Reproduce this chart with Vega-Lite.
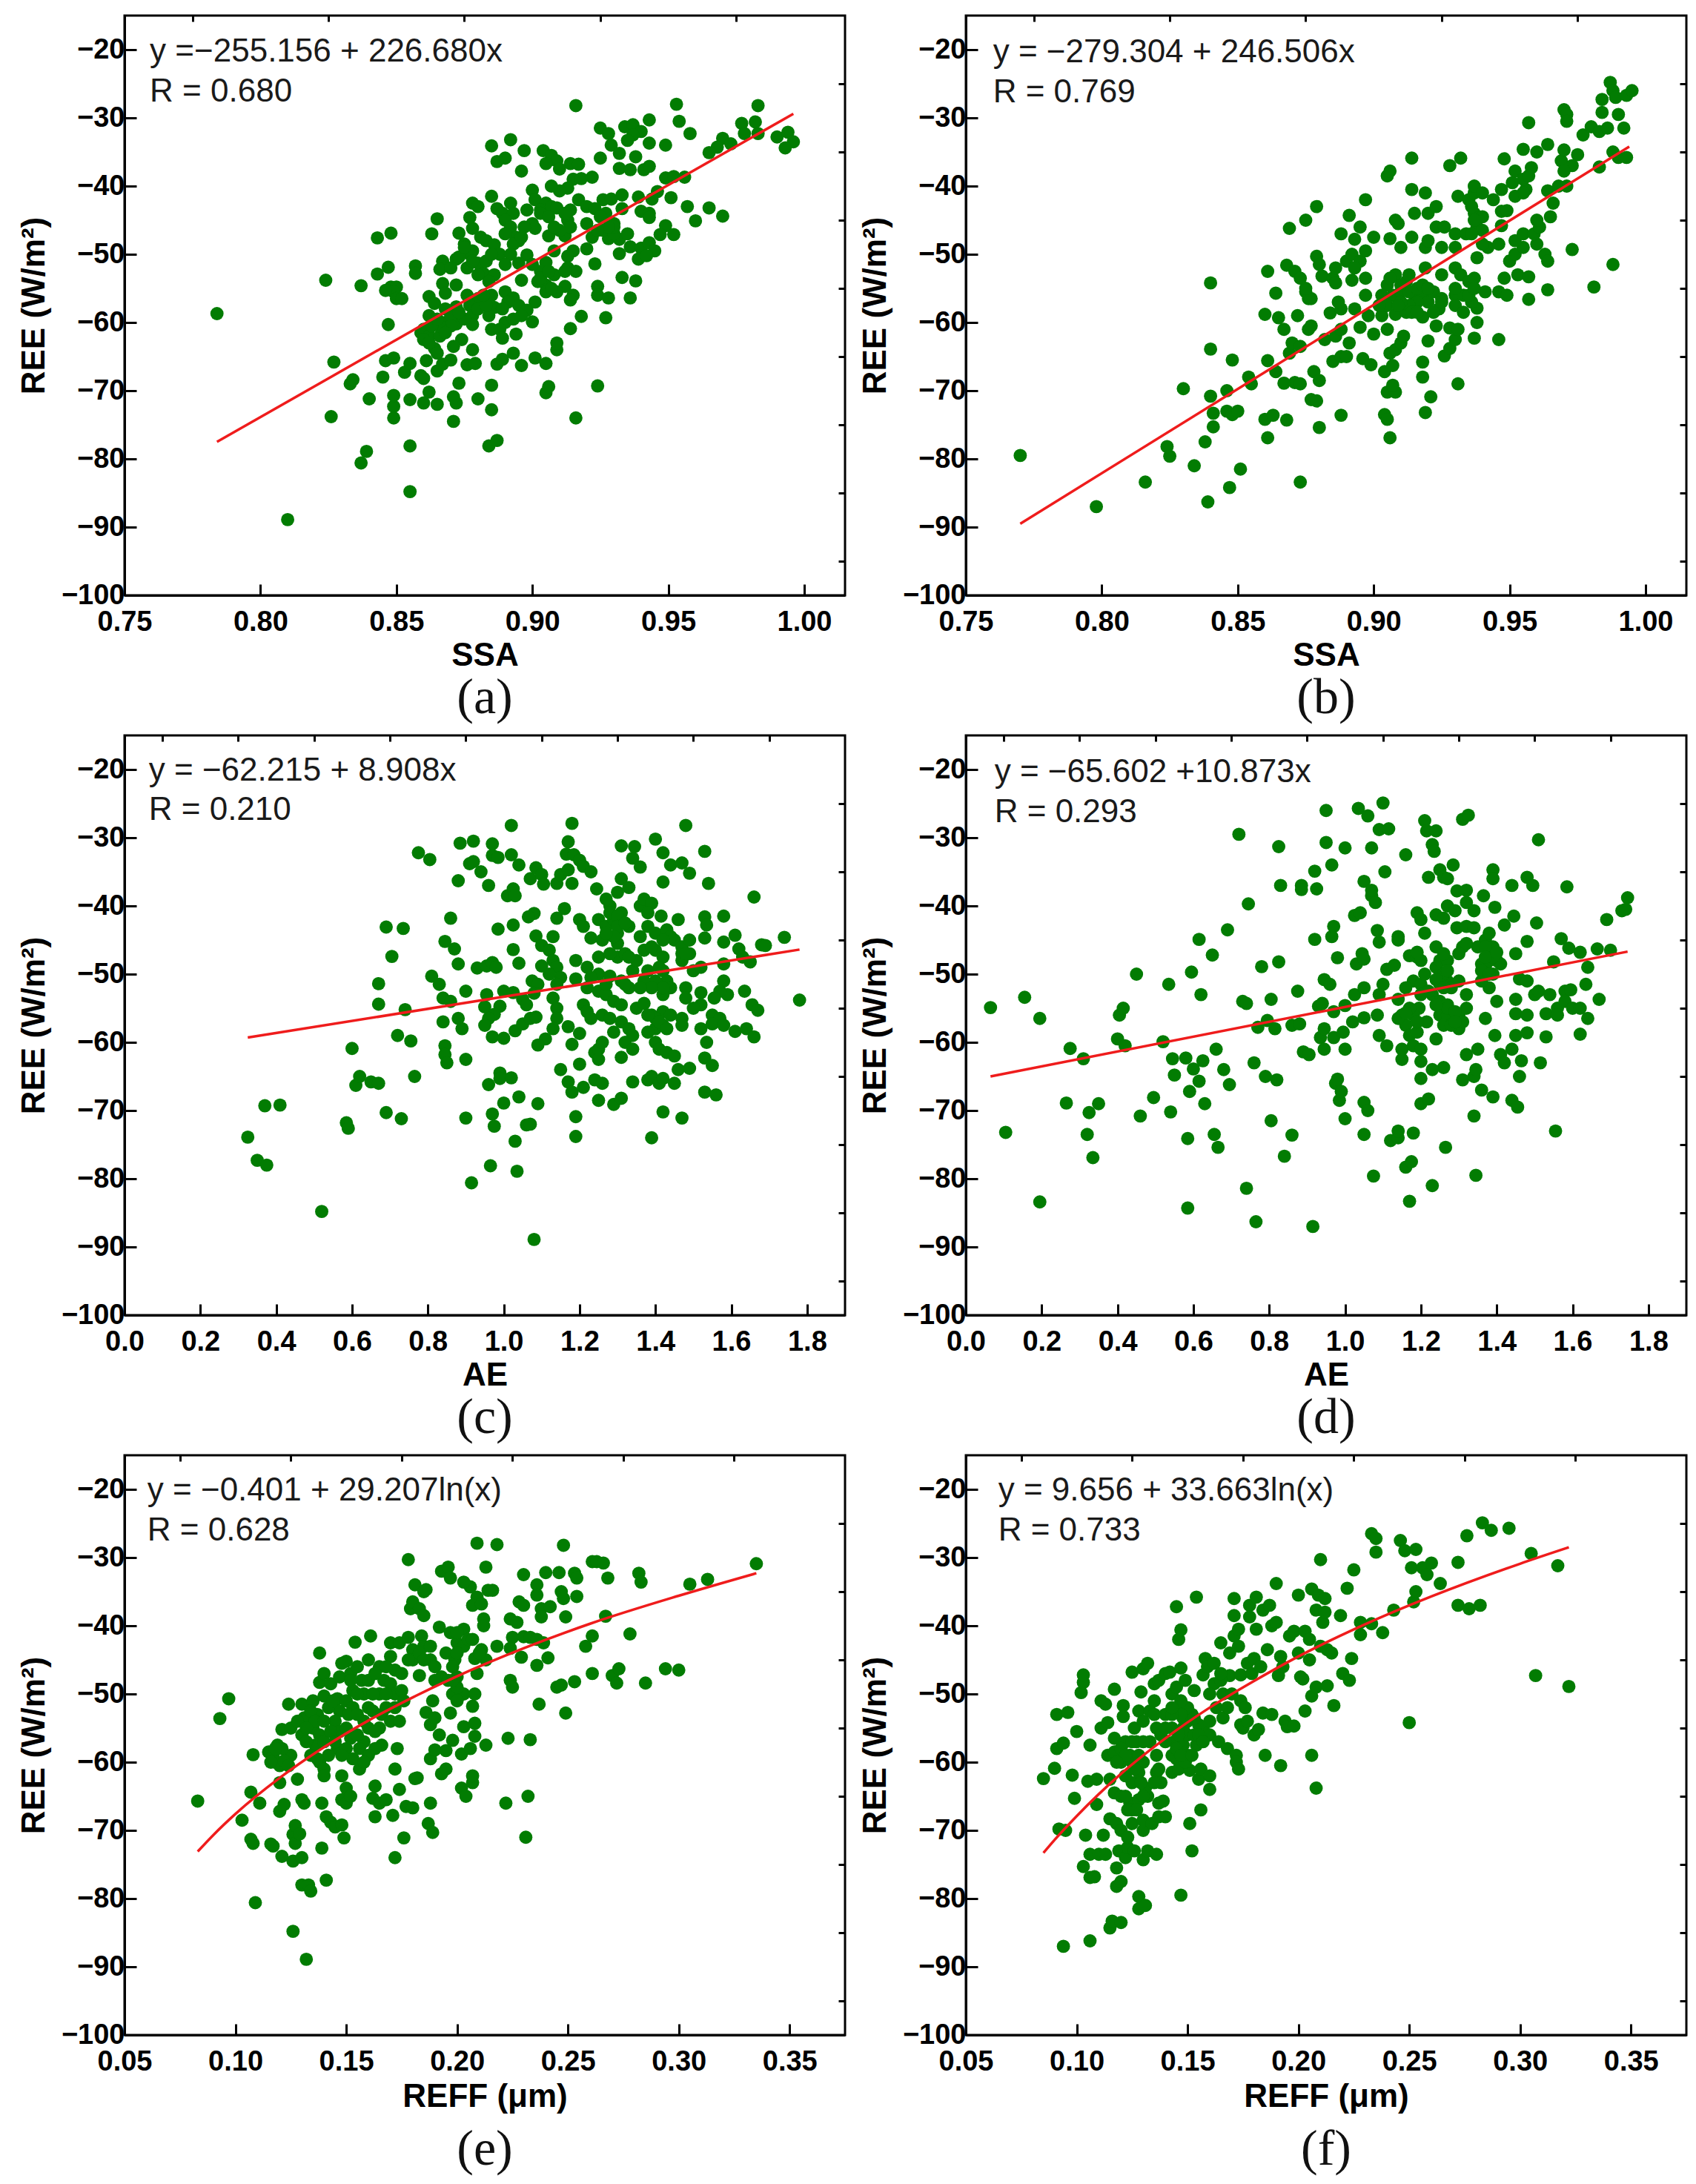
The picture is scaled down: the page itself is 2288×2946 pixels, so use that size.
{"$schema":"https://vega.github.io/schema/vega-lite/v6.json","background":"white","padding":{"left":22,"top":18,"right":0,"bottom":0},"bounds":"flush","columns":2,"spacing":{"row":189,"column":163},
"config":{"font":"Liberation Sans","view":{"stroke":"black","strokeWidth":3},"title":{"font":"Liberation Serif","fontSize":68,"fontWeight":"normal","color":"#111111","orient":"bottom","offset":2},"axis":{"labelFont":"Liberation Sans","labelFontWeight":"bold","labelFontSize":38,"labelColor":"black","labelFlush":false,"titleFont":"Liberation Sans","titleFontWeight":"bold","titleFontSize":44,"titleColor":"black","grid":false,"domainColor":"black","domainWidth":3,"tickColor":"black","tickWidth":3}},
"datasets":{
"a":[{"x":0.784,"y":-58.7},{"x":0.81,"y":-88.9},{"x":0.855,"y":-84.8},{"x":0.837,"y":-80.6},{"x":0.839,"y":-78.9},{"x":0.855,"y":-78.1},{"x":0.884,"y":-78.1},{"x":0.887,"y":-77.3},{"x":0.826,"y":-73.8},{"x":0.849,"y":-74},{"x":0.871,"y":-74.5},{"x":0.916,"y":-74},{"x":0.885,"y":-72.8},{"x":0.849,"y":-72.3},{"x":0.855,"y":-71.3},{"x":0.84,"y":-71.2},{"x":0.849,"y":-70.7},{"x":0.86,"y":-71.8},{"x":0.865,"y":-72},{"x":0.872,"y":-71.8},{"x":0.871,"y":-70.9},{"x":0.88,"y":-71.2},{"x":0.862,"y":-70.2},{"x":0.885,"y":-69.2},{"x":0.873,"y":-68.9},{"x":0.905,"y":-70.3},{"x":0.906,"y":-69.4},{"x":0.924,"y":-69.3},{"x":0.833,"y":-69},{"x":0.834,"y":-68.4},{"x":0.845,"y":-68},{"x":0.853,"y":-67.3},{"x":0.859,"y":-67.8},{"x":0.86,"y":-68.2},{"x":0.827,"y":-65.8},{"x":0.846,"y":-65.6},{"x":0.849,"y":-65.2},{"x":0.855,"y":-66},{"x":0.861,"y":-65.6},{"x":0.865,"y":-67.1},{"x":0.867,"y":-66.1},{"x":0.87,"y":-65.5},{"x":0.876,"y":-66.2},{"x":0.879,"y":-66},{"x":0.887,"y":-66.1},{"x":0.889,"y":-65.4},{"x":0.893,"y":-64.5},{"x":0.896,"y":-66.3},{"x":0.901,"y":-65.2},{"x":0.905,"y":-66},{"x":0.909,"y":-64},{"x":0.909,"y":-63},{"x":0.874,"y":-62.5},{"x":0.871,"y":-63.5},{"x":0.878,"y":-64},{"x":0.864,"y":-63.8},{"x":0.859,"y":-61.5},{"x":0.916,"y":-28.2},{"x":0.953,"y":-28},{"x":0.983,"y":-28.2},{"x":0.954,"y":-30.5},{"x":0.958,"y":-32.3},{"x":0.925,"y":-31.5},{"x":0.928,"y":-32.3},{"x":0.934,"y":-31.3},{"x":0.937,"y":-31},{"x":0.943,"y":-30.3},{"x":0.94,"y":-32},{"x":0.937,"y":-32.5},{"x":0.935,"y":-33.3},{"x":0.943,"y":-33.7},{"x":0.949,"y":-34},{"x":0.929,"y":-34},{"x":0.977,"y":-30.8},{"x":0.982,"y":-30.6},{"x":0.978,"y":-32.3},{"x":0.983,"y":-32.3},{"x":0.99,"y":-32.8},{"x":0.994,"y":-32.1},{"x":0.996,"y":-33.5},{"x":0.993,"y":-34.4},{"x":0.97,"y":-33},{"x":0.973,"y":-33.8},{"x":0.968,"y":-34.3},{"x":0.965,"y":-35.1},{"x":0.885,"y":-34.1},{"x":0.892,"y":-33.2},{"x":0.897,"y":-34.8},{"x":0.904,"y":-34.8},{"x":0.907,"y":-35.5},{"x":0.932,"y":-35.2},{"x":0.925,"y":-35.9},{"x":0.938,"y":-35.7},{"x":0.89,"y":-35.9},{"x":0.887,"y":-36.4},{"x":0.909,"y":-36.3},{"x":0.905,"y":-36.7},{"x":0.914,"y":-36.7},{"x":0.917,"y":-36.8},{"x":0.91,"y":-37.5},{"x":0.896,"y":-37.8},{"x":0.932,"y":-37.4},{"x":0.936,"y":-37.6},{"x":0.941,"y":-37.6},{"x":0.943,"y":-37.1},{"x":0.949,"y":-38.8},{"x":0.952,"y":-38.6},{"x":0.956,"y":-38.7},{"x":0.922,"y":-38.7},{"x":0.915,"y":-39},{"x":0.918,"y":-38.9},{"x":0.913,"y":-40.3},{"x":0.91,"y":-40.7},{"x":0.907,"y":-40},{"x":0.9,"y":-40.6},{"x":0.901,"y":-42},{"x":0.885,"y":-41.5},{"x":0.933,"y":-41.3},{"x":0.939,"y":-41.6},{"x":0.946,"y":-40.8},{"x":0.944,"y":-41.9},{"x":0.951,"y":-41.7},{"x":0.926,"y":-42},{"x":0.929,"y":-41.9},{"x":0.892,"y":-42.5},{"x":0.878,"y":-42.5},{"x":0.88,"y":-43},{"x":0.887,"y":-43.3},{"x":0.889,"y":-44},{"x":0.917,"y":-42},{"x":0.92,"y":-43},{"x":0.914,"y":-43.5},{"x":0.905,"y":-42.5},{"x":0.903,"y":-43.5},{"x":0.898,"y":-43.5},{"x":0.893,"y":-44},{"x":0.907,"y":-43},{"x":0.909,"y":-43.2},{"x":0.923,"y":-43.3},{"x":0.933,"y":-43.3},{"x":0.94,"y":-43.7},{"x":0.943,"y":-44},{"x":0.927,"y":-44},{"x":0.957,"y":-43},{"x":0.965,"y":-43.2},{"x":0.97,"y":-44.4},{"x":0.96,"y":-45.1},{"x":0.865,"y":-44.8},{"x":0.877,"y":-44.6},{"x":0.89,"y":-45},{"x":0.913,"y":-45},{"x":0.92,"y":-45.5},{"x":0.925,"y":-44.5},{"x":0.93,"y":-45.5},{"x":0.943,"y":-44.6},{"x":0.892,"y":-46},{"x":0.9,"y":-45.5},{"x":0.901,"y":-46.2},{"x":0.878,"y":-46.2},{"x":0.949,"y":-45.8},{"x":0.848,"y":-46.9},{"x":0.843,"y":-47.6},{"x":0.863,"y":-47},{"x":0.873,"y":-46.9},{"x":0.881,"y":-47.5},{"x":0.894,"y":-47.5},{"x":0.895,"y":-48},{"x":0.893,"y":-48.5},{"x":0.906,"y":-47.3},{"x":0.912,"y":-47.3},{"x":0.922,"y":-47.5},{"x":0.928,"y":-47.7},{"x":0.932,"y":-47.8},{"x":0.926,"y":-46.5},{"x":0.93,"y":-47},{"x":0.947,"y":-47.1},{"x":0.952,"y":-47.1},{"x":0.875,"y":-48.5},{"x":0.883,"y":-48},{"x":0.886,"y":-48.6},{"x":0.888,"y":-50},{"x":0.878,"y":-49.5},{"x":0.877,"y":-50},{"x":0.915,"y":-49.5},{"x":0.92,"y":-49.2},{"x":0.932,"y":-49.9},{"x":0.936,"y":-48.9},{"x":0.94,"y":-49.1},{"x":0.943,"y":-48.3},{"x":0.945,"y":-49.5},{"x":0.939,"y":-50.7},{"x":0.942,"y":-50.2},{"x":0.898,"y":-50.1},{"x":0.892,"y":-50},{"x":0.908,"y":-49.5},{"x":0.872,"y":-50.7},{"x":0.867,"y":-51},{"x":0.873,"y":-50.4},{"x":0.88,"y":-51.3},{"x":0.89,"y":-51.5},{"x":0.895,"y":-51.3},{"x":0.905,"y":-51.2},{"x":0.913,"y":-50.3},{"x":0.913,"y":-52},{"x":0.916,"y":-52.5},{"x":0.923,"y":-51.4},{"x":0.857,"y":-51.7},{"x":0.857,"y":-52.8},{"x":0.847,"y":-51.9},{"x":0.843,"y":-52.9},{"x":0.866,"y":-52.2},{"x":0.87,"y":-52},{"x":0.882,"y":-52.8},{"x":0.886,"y":-53},{"x":0.903,"y":-52.5},{"x":0.908,"y":-53},{"x":0.912,"y":-52.5},{"x":0.824,"y":-53.8},{"x":0.837,"y":-54.6},{"x":0.848,"y":-54.8},{"x":0.85,"y":-54.8},{"x":0.849,"y":-55.5},{"x":0.867,"y":-54.3},{"x":0.872,"y":-54.5},{"x":0.884,"y":-54},{"x":0.896,"y":-53.8},{"x":0.902,"y":-54},{"x":0.905,"y":-54.5},{"x":0.933,"y":-53.4},{"x":0.938,"y":-53.9},{"x":0.924,"y":-54.7},{"x":0.912,"y":-54.7},{"x":0.85,"y":-56.5},{"x":0.852,"y":-56.5},{"x":0.846,"y":-55.3},{"x":0.868,"y":-55.7},{"x":0.862,"y":-56.2},{"x":0.885,"y":-56},{"x":0.89,"y":-55.5},{"x":0.88,"y":-56.5},{"x":0.893,"y":-56.4},{"x":0.905,"y":-55.5},{"x":0.909,"y":-55.5},{"x":0.915,"y":-56},{"x":0.914,"y":-56.7},{"x":0.924,"y":-56},{"x":0.928,"y":-56.4},{"x":0.936,"y":-56.4},{"x":0.864,"y":-57.2},{"x":0.872,"y":-57.7},{"x":0.868,"y":-58},{"x":0.877,"y":-57.5},{"x":0.886,"y":-57.8},{"x":0.895,"y":-57.5},{"x":0.901,"y":-57},{"x":0.898,"y":-58.2},{"x":0.862,"y":-59},{"x":0.878,"y":-59},{"x":0.884,"y":-59},{"x":0.896,"y":-59},{"x":0.9,"y":-59.9},{"x":0.89,"y":-60},{"x":0.918,"y":-59.1},{"x":0.927,"y":-59.3},{"x":0.847,"y":-60.3},{"x":0.86,"y":-61},{"x":0.868,"y":-60},{"x":0.872,"y":-60.2},{"x":0.878,"y":-60.3},{"x":0.885,"y":-61},{"x":0.888,"y":-61},{"x":0.914,"y":-60.9},{"x":0.862,"y":-62},{"x":0.866,"y":-62},{"x":0.894,"y":-61.7},{"x":0.889,"y":-62.3},{"x":0.87,"y":-59},{"x":0.875,"y":-59.5},{"x":0.873,"y":-58.5},{"x":0.88,"y":-58},{"x":0.883,"y":-57.5},{"x":0.882,"y":-56},{"x":0.876,"y":-56},{"x":0.87,"y":-60.5},{"x":0.866,"y":-60.5},{"x":0.863,"y":-60.5},{"x":0.86,"y":-62.5},{"x":0.862,"y":-63},{"x":0.865,"y":-64.5},{"x":0.88,"y":-53},{"x":0.883,"y":-51},{"x":0.876,"y":-52},{"x":0.878,"y":-51},{"x":0.875,"y":-49},{"x":0.885,"y":-50},{"x":0.9,"y":-51.5},{"x":0.903,"y":-53.5},{"x":0.906,"y":-52.5},{"x":0.907,"y":-55},{"x":0.903,"y":-44},{"x":0.906,"y":-44.5},{"x":0.897,"y":-46},{"x":0.896,"y":-47.5},{"x":0.89,"y":-47},{"x":0.93,"y":-46},{"x":0.928,"y":-46},{"x":0.924,"y":-46.5},{"x":0.935,"y":-47},{"x":0.914,"y":-46},{"x":0.91,"y":-46.5},{"x":0.912,"y":-44},{"x":0.908,"y":-46},{"x":0.891,"y":-57},{"x":0.889,"y":-58},{"x":0.893,"y":-59.5},{"x":0.865,"y":-59.5},{"x":0.868,"y":-61.5}],
"b":[{"x":0.77,"y":-79.5},{"x":0.798,"y":-87},{"x":0.816,"y":-83.4},{"x":0.839,"y":-86.3},{"x":0.847,"y":-84.2},{"x":0.873,"y":-83.4},{"x":0.851,"y":-81.5},{"x":0.834,"y":-81},{"x":0.825,"y":-79.6},{"x":0.824,"y":-78.2},{"x":0.838,"y":-77.5},{"x":0.861,"y":-76.9},{"x":0.906,"y":-76.9},{"x":0.841,"y":-75.3},{"x":0.88,"y":-75.4},{"x":0.86,"y":-74.2},{"x":0.863,"y":-73.6},{"x":0.868,"y":-74.3},{"x":0.888,"y":-73.6},{"x":0.904,"y":-73.5},{"x":0.905,"y":-74.2},{"x":0.919,"y":-73.2},{"x":0.841,"y":-73.3},{"x":0.846,"y":-73},{"x":0.848,"y":-73.5},{"x":0.85,"y":-73},{"x":0.84,"y":-70.8},{"x":0.83,"y":-69.7},{"x":0.846,"y":-70},{"x":0.877,"y":-71.3},{"x":0.879,"y":-71.5},{"x":0.921,"y":-70.9},{"x":0.905,"y":-70.2},{"x":0.908,"y":-70.2},{"x":0.907,"y":-69.2},{"x":0.904,"y":-67.2},{"x":0.931,"y":-69},{"x":0.918,"y":-68},{"x":0.871,"y":-68.8},{"x":0.873,"y":-69},{"x":0.867,"y":-68.9},{"x":0.878,"y":-67.2},{"x":0.88,"y":-68.5},{"x":0.855,"y":-69},{"x":0.854,"y":-68},{"x":0.864,"y":-67.2},{"x":0.848,"y":-65.5},{"x":0.861,"y":-65.6},{"x":0.885,"y":-65.7},{"x":0.888,"y":-65},{"x":0.89,"y":-65},{"x":0.896,"y":-65.3},{"x":0.899,"y":-66.2},{"x":0.907,"y":-66.3},{"x":0.906,"y":-64.5},{"x":0.918,"y":-65.8},{"x":0.926,"y":-64.9},{"x":0.928,"y":-63.8},{"x":0.84,"y":-63.9},{"x":0.869,"y":-64.5},{"x":0.87,"y":-63},{"x":0.873,"y":-63.5},{"x":0.882,"y":-62.5},{"x":0.886,"y":-62},{"x":0.891,"y":-63},{"x":0.908,"y":-64},{"x":0.91,"y":-63},{"x":0.911,"y":-62},{"x":0.92,"y":-62.7},{"x":0.93,"y":-62.5},{"x":0.937,"y":-62.3},{"x":0.946,"y":-62.5},{"x":0.867,"y":-61},{"x":0.876,"y":-61},{"x":0.877,"y":-60.5},{"x":0.888,"y":-61},{"x":0.895,"y":-60.7},{"x":0.9,"y":-61.7},{"x":0.905,"y":-61},{"x":0.923,"y":-60.5},{"x":0.928,"y":-60.8},{"x":0.931,"y":-61},{"x":0.938,"y":-60},{"x":0.86,"y":-58.8},{"x":0.865,"y":-59.3},{"x":0.872,"y":-59},{"x":0.884,"y":-58.6},{"x":0.888,"y":-58},{"x":0.893,"y":-58},{"x":0.898,"y":-59},{"x":0.903,"y":-59},{"x":0.908,"y":-58.8},{"x":0.912,"y":-58.5},{"x":0.918,"y":-59.2},{"x":0.924,"y":-58},{"x":0.938,"y":-57.9},{"x":0.864,"y":-55.7},{"x":0.875,"y":-55.5},{"x":0.876,"y":-56.5},{"x":0.877,"y":-56.5},{"x":0.887,"y":-57},{"x":0.897,"y":-56},{"x":0.903,"y":-56},{"x":0.907,"y":-56},{"x":0.91,"y":-55.5},{"x":0.915,"y":-56},{"x":0.918,"y":-56},{"x":0.92,"y":-57},{"x":0.916,"y":-57},{"x":0.913,"y":-57.5},{"x":0.922,"y":-55.5},{"x":0.925,"y":-56.5},{"x":0.93,"y":-56},{"x":0.933,"y":-56},{"x":0.93,"y":-57.5},{"x":0.936,"y":-57},{"x":0.941,"y":-55.5},{"x":0.946,"y":-55.5},{"x":0.949,"y":-56},{"x":0.957,"y":-56.6},{"x":0.964,"y":-55.2},{"x":0.981,"y":-54.8},{"x":0.84,"y":-54.2},{"x":0.861,"y":-52.5},{"x":0.868,"y":-51.6},{"x":0.871,"y":-52.5},{"x":0.873,"y":-53.5},{"x":0.875,"y":-55},{"x":0.881,"y":-53.2},{"x":0.885,"y":-53.5},{"x":0.886,"y":-54.2},{"x":0.886,"y":-52},{"x":0.892,"y":-53.8},{"x":0.897,"y":-53.5},{"x":0.905,"y":-54.5},{"x":0.908,"y":-53},{"x":0.912,"y":-54},{"x":0.913,"y":-53},{"x":0.919,"y":-52},{"x":0.925,"y":-53},{"x":0.93,"y":-52},{"x":0.932,"y":-53},{"x":0.935,"y":-54},{"x":0.937,"y":-53.5},{"x":0.938,"y":-50.5},{"x":0.948,"y":-53.5},{"x":0.953,"y":-53},{"x":0.957,"y":-53.3},{"x":0.988,"y":-51.5},{"x":0.879,"y":-50.3},{"x":0.88,"y":-51.5},{"x":0.89,"y":-51},{"x":0.892,"y":-50},{"x":0.895,"y":-51},{"x":0.893,"y":-52},{"x":0.897,"y":-49.5},{"x":0.9,"y":-47.5},{"x":0.91,"y":-49},{"x":0.919,"y":-49},{"x":0.92,"y":-48},{"x":0.925,"y":-49},{"x":0.93,"y":-49},{"x":0.942,"y":-49},{"x":0.946,"y":-48.5},{"x":0.95,"y":-51},{"x":0.952,"y":-50},{"x":0.955,"y":-49},{"x":0.952,"y":-48},{"x":0.96,"y":-48.5},{"x":0.963,"y":-50},{"x":0.964,"y":-51},{"x":0.973,"y":-49.3},{"x":0.869,"y":-46.2},{"x":0.875,"y":-45},{"x":0.879,"y":-43},{"x":0.888,"y":-47},{"x":0.893,"y":-47.8},{"x":0.891,"y":-44.3},{"x":0.895,"y":-46},{"x":0.897,"y":-42},{"x":0.906,"y":-47.7},{"x":0.909,"y":-45.5},{"x":0.908,"y":-45},{"x":0.915,"y":-44},{"x":0.914,"y":-47.5},{"x":0.923,"y":-46},{"x":0.926,"y":-46},{"x":0.93,"y":-47},{"x":0.934,"y":-47},{"x":0.938,"y":-46},{"x":0.937,"y":-44},{"x":0.94,"y":-46.5},{"x":0.947,"y":-43.7},{"x":0.949,"y":-43.6},{"x":0.947,"y":-45.8},{"x":0.955,"y":-47},{"x":0.959,"y":-47},{"x":0.961,"y":-46},{"x":0.965,"y":-44.5},{"x":0.96,"y":-45},{"x":0.966,"y":-42.5},{"x":0.92,"y":-44},{"x":0.923,"y":-43},{"x":0.914,"y":-40.5},{"x":0.919,"y":-41},{"x":0.931,"y":-41.5},{"x":0.935,"y":-42},{"x":0.937,"y":-41},{"x":0.937,"y":-40},{"x":0.94,"y":-41},{"x":0.944,"y":-42},{"x":0.947,"y":-40.5},{"x":0.952,"y":-41.5},{"x":0.956,"y":-40.5},{"x":0.964,"y":-40.7},{"x":0.968,"y":-40},{"x":0.971,"y":-40},{"x":0.905,"y":-38.5},{"x":0.906,"y":-37.8},{"x":0.914,"y":-35.9},{"x":0.928,"y":-37},{"x":0.932,"y":-35.9},{"x":0.948,"y":-36},{"x":0.952,"y":-37.8},{"x":0.951,"y":-39.5},{"x":0.955,"y":-39},{"x":0.958,"y":-37.3},{"x":0.955,"y":-34.6},{"x":0.96,"y":-35},{"x":0.969,"y":-36.3},{"x":0.97,"y":-34.7},{"x":0.964,"y":-33.9},{"x":0.975,"y":-35.4},{"x":0.973,"y":-37},{"x":0.97,"y":-37.8},{"x":0.983,"y":-37.2},{"x":0.988,"y":-35},{"x":0.99,"y":-35.8},{"x":0.993,"y":-35.8},{"x":0.957,"y":-30.7},{"x":0.97,"y":-28.8},{"x":0.971,"y":-29.5},{"x":0.971,"y":-30.5},{"x":0.977,"y":-32.5},{"x":0.98,"y":-31.3},{"x":0.983,"y":-32},{"x":0.986,"y":-31.5},{"x":0.992,"y":-31.5},{"x":0.984,"y":-29.2},{"x":0.984,"y":-27.3},{"x":0.987,"y":-24.8},{"x":0.988,"y":-26},{"x":0.989,"y":-27},{"x":0.99,"y":-29.5},{"x":0.993,"y":-26.7},{"x":0.995,"y":-26},{"x":0.91,"y":-57},{"x":0.913,"y":-55.5},{"x":0.916,"y":-55},{"x":0.918,"y":-54.5},{"x":0.914,"y":-58.5},{"x":0.905,"y":-57.5},{"x":0.909,"y":-57.5},{"x":0.92,"y":-55},{"x":0.916,"y":-58.5},{"x":0.922,"y":-58.5},{"x":0.925,"y":-57},{"x":0.93,"y":-55},{"x":0.933,"y":-58.5},{"x":0.935,"y":-56},{"x":0.937,"y":-55},{"x":0.936,"y":-47},{"x":0.938,"y":-45},{"x":0.94,"y":-44.5},{"x":0.936,"y":-43},{"x":0.937,"y":-45},{"x":0.955,"y":-41},{"x":0.957,"y":-38.5},{"x":0.902,"y":-57.5},{"x":0.91,"y":-54.5},{"x":0.906,"y":-53.5},{"x":0.94,"y":-48.5}],
"c":[{"x":0.325,"y":-73.9},{"x":0.35,"y":-77.3},{"x":0.375,"y":-78},{"x":0.37,"y":-69.3},{"x":0.41,"y":-69.2},{"x":0.52,"y":-84.8},{"x":0.585,"y":-71.8},{"x":0.59,"y":-72.6},{"x":0.6,"y":-60.9},{"x":0.61,"y":-66.3},{"x":0.62,"y":-65},{"x":0.65,"y":-65.8},{"x":0.67,"y":-66},{"x":0.69,"y":-70.3},{"x":0.73,"y":-71.2},{"x":0.67,"y":-54.4},{"x":0.67,"y":-51.4},{"x":0.705,"y":-47.4},{"x":0.69,"y":-43.1},{"x":0.735,"y":-43.3},{"x":0.72,"y":-59},{"x":0.74,"y":-55.2},{"x":0.755,"y":-59.8},{"x":0.765,"y":-65},{"x":0.775,"y":-32.2},{"x":0.805,"y":-33.2},{"x":0.81,"y":-50.3},{"x":0.83,"y":-51.5},{"x":0.84,"y":-53.5},{"x":0.86,"y":-54},{"x":0.84,"y":-57},{"x":0.88,"y":-56.5},{"x":0.89,"y":-58},{"x":0.845,"y":-60.5},{"x":0.845,"y":-61.8},{"x":0.85,"y":-63},{"x":0.9,"y":-62.5},{"x":0.86,"y":-41.8},{"x":0.845,"y":-45.2},{"x":0.87,"y":-46.3},{"x":0.88,"y":-48.5},{"x":0.9,"y":-52.5},{"x":0.88,"y":-36.3},{"x":0.885,"y":-30.8},{"x":0.92,"y":-30.5},{"x":0.91,"y":-33.8},{"x":0.92,"y":-33.5},{"x":0.94,"y":-35},{"x":0.96,"y":-37},{"x":0.97,"y":-30.9},{"x":0.97,"y":-32.6},{"x":0.985,"y":-32.9},{"x":1.02,"y":-28.2},{"x":1.02,"y":-32.5},{"x":1.04,"y":-34},{"x":1.01,"y":-38.5},{"x":1.025,"y":-37.5},{"x":1.03,"y":-38.5},{"x":1.07,"y":-36},{"x":1.085,"y":-34.4},{"x":1.1,"y":-35.4},{"x":1.105,"y":-36.8},{"x":1.14,"y":-36.7},{"x":1.15,"y":-35.4},{"x":1.17,"y":-34.7},{"x":1.18,"y":-36.7},{"x":1.18,"y":-27.9},{"x":1.17,"y":-30.6},{"x":1.165,"y":-32.4},{"x":1.185,"y":-32.5},{"x":1.2,"y":-33.3},{"x":1.21,"y":-34.2},{"x":1.23,"y":-35},{"x":1.16,"y":-40.4},{"x":1.14,"y":-41.8},{"x":1.08,"y":-41.1},{"x":1.065,"y":-41.6},{"x":1.025,"y":-42.8},{"x":0.985,"y":-43.4},{"x":1.085,"y":-44.4},{"x":1.13,"y":-44.5},{"x":1.1,"y":-45.8},{"x":1.12,"y":-46.5},{"x":1.025,"y":-46.4},{"x":1.04,"y":-48.4},{"x":0.93,"y":-49.1},{"x":0.955,"y":-48.8},{"x":0.97,"y":-48.3},{"x":0.98,"y":-49},{"x":1.0,"y":-52.5},{"x":0.955,"y":-53},{"x":0.95,"y":-54.8},{"x":0.99,"y":-54.7},{"x":0.975,"y":-55.9},{"x":0.96,"y":-56.5},{"x":0.95,"y":-57.5},{"x":0.97,"y":-59.2},{"x":1.0,"y":-59.4},{"x":1.03,"y":-58.3},{"x":1.05,"y":-57.3},{"x":1.07,"y":-56.5},{"x":1.085,"y":-56.3},{"x":1.025,"y":-52.7},{"x":1.05,"y":-53.7},{"x":1.06,"y":-54.5},{"x":1.075,"y":-51},{"x":1.09,"y":-51.5},{"x":1.08,"y":-52.8},{"x":1.1,"y":-48.8},{"x":1.13,"y":-48},{"x":1.14,"y":-49},{"x":1.15,"y":-50.5},{"x":1.14,"y":-51.5},{"x":1.12,"y":-50},{"x":1.13,"y":-53.5},{"x":1.14,"y":-55},{"x":1.14,"y":-56.5},{"x":1.13,"y":-58},{"x":1.11,"y":-59.5},{"x":1.09,"y":-60.4},{"x":1.17,"y":-57.7},{"x":1.2,"y":-58.7},{"x":1.18,"y":-60.3},{"x":1.2,"y":-63.2},{"x":1.15,"y":-64},{"x":1.17,"y":-65.8},{"x":1.18,"y":-67.3},{"x":1.21,"y":-66.6},{"x":1.24,"y":-65.5},{"x":1.26,"y":-66},{"x":1.25,"y":-68.5},{"x":1.29,"y":-69.1},{"x":1.31,"y":-68.2},{"x":1.34,"y":-65.8},{"x":1.19,"y":-70.9},{"x":1.19,"y":-73.8},{"x":1.39,"y":-74},{"x":1.42,"y":-70.2},{"x":1.47,"y":-71.1},{"x":0.99,"y":-64.5},{"x":0.99,"y":-65.3},{"x":1.02,"y":-65.2},{"x":0.96,"y":-66.2},{"x":1.0,"y":-68.9},{"x":1.04,"y":-68},{"x":1.09,"y":-69},{"x":0.97,"y":-70.5},{"x":0.9,"y":-71.1},{"x":0.975,"y":-72.3},{"x":1.03,"y":-74.5},{"x":1.06,"y":-72.1},{"x":1.07,"y":-72},{"x":0.965,"y":-78.1},{"x":1.035,"y":-78.9},{"x":0.915,"y":-80.6},{"x":1.08,"y":-88.9},{"x":1.2,"y":-42},{"x":1.21,"y":-43},{"x":1.23,"y":-44.7},{"x":1.25,"y":-42},{"x":1.27,"y":-43},{"x":1.29,"y":-42},{"x":1.31,"y":-41},{"x":1.33,"y":-43},{"x":1.3,"y":-44},{"x":1.28,"y":-40},{"x":1.3,"y":-38},{"x":1.31,"y":-36},{"x":1.245,"y":-37.5},{"x":1.27,"y":-39},{"x":1.33,"y":-37.3},{"x":1.36,"y":-40},{"x":1.37,"y":-39},{"x":1.39,"y":-39.6},{"x":1.38,"y":-41},{"x":1.42,"y":-36.5},{"x":1.4,"y":-30.2},{"x":1.42,"y":-32.2},{"x":1.44,"y":-34},{"x":1.34,"y":-33},{"x":1.36,"y":-34.3},{"x":1.31,"y":-31.2},{"x":1.345,"y":-31.3},{"x":1.47,"y":-33.7},{"x":1.48,"y":-28.2},{"x":1.49,"y":-35.2},{"x":1.53,"y":-32},{"x":1.54,"y":-36.7},{"x":1.66,"y":-38.7},{"x":1.415,"y":-41.5},{"x":1.46,"y":-42},{"x":1.53,"y":-41.6},{"x":1.535,"y":-42.8},{"x":1.58,"y":-41.5},{"x":1.53,"y":-44.7},{"x":1.58,"y":-45.3},{"x":1.61,"y":-44.3},{"x":1.62,"y":-46.3},{"x":1.74,"y":-44.6},{"x":1.68,"y":-45.7},{"x":1.69,"y":-45.8},{"x":1.63,"y":-47.5},{"x":1.65,"y":-48.2},{"x":1.58,"y":-48.5},{"x":1.5,"y":-49.5},{"x":1.52,"y":-49},{"x":1.38,"y":-43},{"x":1.4,"y":-44},{"x":1.43,"y":-43.5},{"x":1.45,"y":-45},{"x":1.47,"y":-46},{"x":1.49,"y":-45},{"x":1.47,"y":-47},{"x":1.49,"y":-47},{"x":1.36,"y":-44.5},{"x":1.37,"y":-46.5},{"x":1.4,"y":-46.5},{"x":1.42,"y":-47.5},{"x":1.3,"y":-45.5},{"x":1.3,"y":-47.5},{"x":1.32,"y":-47},{"x":1.26,"y":-45},{"x":1.25,"y":-47.5},{"x":1.28,"y":-47},{"x":1.19,"y":-48},{"x":1.22,"y":-49},{"x":1.25,"y":-50},{"x":1.28,"y":-50.3},{"x":1.34,"y":-49.5},{"x":1.38,"y":-49.5},{"x":1.42,"y":-49.5},{"x":1.19,"y":-50.7},{"x":1.22,"y":-52},{"x":1.31,"y":-51},{"x":1.33,"y":-52},{"x":1.37,"y":-51},{"x":1.4,"y":-51.3},{"x":1.43,"y":-51},{"x":1.44,"y":-52},{"x":1.42,"y":-53},{"x":1.48,"y":-52},{"x":1.52,"y":-52.7},{"x":1.48,"y":-53.5},{"x":1.59,"y":-53},{"x":1.58,"y":-51},{"x":1.57,"y":-52.5},{"x":1.555,"y":-53.5},{"x":1.635,"y":-52.5},{"x":1.78,"y":-53.8},{"x":1.25,"y":-52.5},{"x":1.27,"y":-53},{"x":1.29,"y":-54},{"x":1.31,"y":-54.5},{"x":1.35,"y":-55},{"x":1.37,"y":-54.3},{"x":1.21,"y":-54.5},{"x":1.22,"y":-55.5},{"x":1.23,"y":-56.5},{"x":1.26,"y":-56},{"x":1.28,"y":-56.5},{"x":1.39,"y":-56},{"x":1.42,"y":-55.5},{"x":1.44,"y":-56},{"x":1.47,"y":-56.5},{"x":1.52,"y":-54.5},{"x":1.5,"y":-55},{"x":1.55,"y":-56},{"x":1.57,"y":-56.5},{"x":1.655,"y":-54.5},{"x":1.67,"y":-55.3},{"x":1.31,"y":-57},{"x":1.33,"y":-58},{"x":1.34,"y":-59},{"x":1.4,"y":-58},{"x":1.38,"y":-58.5},{"x":1.42,"y":-57.5},{"x":1.47,"y":-57.5},{"x":1.52,"y":-58},{"x":1.55,"y":-57.3},{"x":1.58,"y":-57.5},{"x":1.61,"y":-58.4},{"x":1.64,"y":-58},{"x":1.66,"y":-59.2},{"x":1.29,"y":-58.5},{"x":1.32,"y":-60},{"x":1.34,"y":-61},{"x":1.4,"y":-60},{"x":1.41,"y":-61},{"x":1.43,"y":-61.5},{"x":1.45,"y":-62},{"x":1.535,"y":-60},{"x":1.53,"y":-62.3},{"x":1.55,"y":-63.4},{"x":1.24,"y":-61.5},{"x":1.25,"y":-61},{"x":1.26,"y":-60},{"x":1.25,"y":-62.5},{"x":1.31,"y":-62.2},{"x":1.46,"y":-64},{"x":1.49,"y":-63.8},{"x":1.38,"y":-65.5},{"x":1.39,"y":-65},{"x":1.41,"y":-66},{"x":1.42,"y":-65.3},{"x":1.45,"y":-66},{"x":1.53,"y":-67.3},{"x":1.56,"y":-67.7},{"x":1.28,"y":-41},{"x":1.3,"y":-41.5},{"x":1.3,"y":-43},{"x":1.32,"y":-42.5},{"x":1.29,"y":-44.5},{"x":1.27,"y":-44},{"x":1.4,"y":-56.5},{"x":1.41,"y":-57},{"x":1.43,"y":-58},{"x":1.38,"y":-56},{"x":1.4,"y":-51},{"x":1.42,"y":-52},{"x":1.41,"y":-49},{"x":1.39,"y":-52},{"x":1.36,"y":-52},{"x":1.32,"y":-51.5},{"x":1.44,"y":-44.5},{"x":1.39,"y":-46},{"x":1.42,"y":-45},{"x":1.35,"y":-48},{"x":1.33,"y":-47.5},{"x":1.47,"y":-48},{"x":1.48,"y":-47},{"x":1.27,"y":-51.5},{"x":1.23,"y":-50.5}],
"d":[{"x":0.065,"y":-54.9},{"x":0.105,"y":-73.2},{"x":0.155,"y":-53.4},{"x":0.195,"y":-56.5},{"x":0.195,"y":-83.4},{"x":0.265,"y":-68.9},{"x":0.275,"y":-60.9},{"x":0.31,"y":-62.4},{"x":0.32,"y":-73.5},{"x":0.325,"y":-70.3},{"x":0.335,"y":-76.9},{"x":0.35,"y":-69},{"x":0.4,"y":-59.5},{"x":0.405,"y":-56},{"x":0.415,"y":-55},{"x":0.42,"y":-60.5},{"x":0.45,"y":-50},{"x":0.46,"y":-70.8},{"x":0.495,"y":-68.1},{"x":0.52,"y":-59.9},{"x":0.535,"y":-51.5},{"x":0.54,"y":-70.2},{"x":0.545,"y":-62.4},{"x":0.55,"y":-64.8},{"x":0.58,"y":-62.3},{"x":0.585,"y":-74.1},{"x":0.585,"y":-84.3},{"x":0.59,"y":-67.2},{"x":0.595,"y":-49.7},{"x":0.6,"y":-63.9},{"x":0.615,"y":-65.7},{"x":0.615,"y":-44.9},{"x":0.62,"y":-53},{"x":0.625,"y":-62.7},{"x":0.63,"y":-69},{"x":0.65,"y":-47.2},{"x":0.655,"y":-73.5},{"x":0.66,"y":-61},{"x":0.665,"y":-75.4},{"x":0.68,"y":-64},{"x":0.69,"y":-43.5},{"x":0.695,"y":-66.2},{"x":0.72,"y":-29.5},{"x":0.73,"y":-54},{"x":0.74,"y":-54.3},{"x":0.74,"y":-81.4},{"x":0.745,"y":-39.7},{"x":0.76,"y":-63},{"x":0.77,"y":-57.8},{"x":0.765,"y":-86.3},{"x":0.78,"y":-48.9},{"x":0.79,"y":-65},{"x":0.795,"y":-56.8},{"x":0.805,"y":-53.7},{"x":0.805,"y":-71.5},{"x":0.815,"y":-58},{"x":0.82,"y":-65.5},{"x":0.825,"y":-31.3},{"x":0.825,"y":-48.2},{"x":0.83,"y":-37},{"x":0.84,"y":-76.7},{"x":0.86,"y":-57.5},{"x":0.86,"y":-73.6},{"x":0.875,"y":-52.5},{"x":0.88,"y":-57.3},{"x":0.885,"y":-37},{"x":0.885,"y":-37.6},{"x":0.89,"y":-61.4},{"x":0.905,"y":-61.8},{"x":0.92,"y":-34.9},{"x":0.92,"y":-44.9},{"x":0.925,"y":-37.5},{"x":0.915,"y":-87},{"x":0.93,"y":-54.7},{"x":0.935,"y":-59.3},{"x":0.94,"y":-54.3},{"x":0.945,"y":-50.8},{"x":0.945,"y":-58},{"x":0.945,"y":-61},{"x":0.95,"y":-26},{"x":0.95,"y":-30.7},{"x":0.96,"y":-51.5},{"x":0.965,"y":-34},{"x":0.965,"y":-44.5},{"x":0.97,"y":-43},{"x":0.97,"y":-59.3},{"x":0.97,"y":-55.5},{"x":0.975,"y":-66},{"x":0.98,"y":-65.4},{"x":0.98,"y":-47.6},{"x":0.985,"y":-68.5},{"x":0.99,"y":-67.2},{"x":1.0,"y":-31.5},{"x":0.995,"y":-58.5},{"x":1.0,"y":-61},{"x":1.0,"y":-71.2},{"x":1.0,"y":-54.6},{"x":1.02,"y":-57},{"x":1.025,"y":-53},{"x":1.025,"y":-41.4},{"x":1.04,"y":-41},{"x":1.03,"y":-48.5},{"x":1.035,"y":-25.7},{"x":1.045,"y":-47},{"x":1.05,"y":-47.8},{"x":1.05,"y":-52},{"x":1.05,"y":-56.4},{"x":1.05,"y":-36.4},{"x":1.05,"y":-68.8},{"x":1.06,"y":-70},{"x":1.05,"y":-73.5},{"x":1.06,"y":-26.8},{"x":1.07,"y":-31.5},{"x":1.07,"y":-38.5},{"x":1.07,"y":-37.7},{"x":1.08,"y":-39.5},{"x":1.085,"y":-43.6},{"x":1.075,"y":-79.6},{"x":1.09,"y":-45.3},{"x":1.09,"y":-28.8},{"x":1.1,"y":-24.9},{"x":1.105,"y":-35},{"x":1.115,"y":-28.7},{"x":1.11,"y":-49.3},{"x":1.13,"y":-48.7},{"x":1.1,"y":-51.5},{"x":1.09,"y":-53},{"x":1.085,"y":-56},{"x":1.09,"y":-59},{"x":1.11,"y":-60.5},{"x":1.12,"y":-74.4},{"x":1.14,"y":-74},{"x":1.14,"y":-73},{"x":1.14,"y":-44.5},{"x":1.14,"y":-45},{"x":1.16,"y":-32.5},{"x":1.17,"y":-47.3},{"x":1.19,"y":-47.5},{"x":1.2,"y":-48},{"x":1.19,"y":-46.8},{"x":1.14,"y":-53.7},{"x":1.15,"y":-56},{"x":1.16,"y":-57.5},{"x":1.17,"y":-59},{"x":1.19,"y":-58.5},{"x":1.15,"y":-61},{"x":1.18,"y":-60.5},{"x":1.2,"y":-61},{"x":1.15,"y":-62.5},{"x":1.2,"y":-62.8},{"x":1.2,"y":-65.3},{"x":1.2,"y":-69},{"x":1.22,"y":-68.3},{"x":1.18,"y":-73.3},{"x":1.16,"y":-78.3},{"x":1.175,"y":-77.5},{"x":1.17,"y":-83.3},{"x":1.23,"y":-81},{"x":1.265,"y":-75.4},{"x":1.345,"y":-79.5},{"x":1.555,"y":-73},{"x":1.34,"y":-70.8},{"x":1.36,"y":-67},{"x":1.39,"y":-68},{"x":1.44,"y":-68.5},{"x":1.455,"y":-69.5},{"x":1.31,"y":-65.5},{"x":1.34,"y":-65},{"x":1.345,"y":-64},{"x":1.26,"y":-63.7},{"x":1.23,"y":-64},{"x":1.32,"y":-61.8},{"x":1.35,"y":-61},{"x":1.24,"y":-59.5},{"x":1.215,"y":-57},{"x":1.195,"y":-55},{"x":1.18,"y":-51},{"x":1.2,"y":-51.5},{"x":1.21,"y":-50},{"x":1.24,"y":-49},{"x":1.25,"y":-48},{"x":1.27,"y":-48},{"x":1.24,"y":-46},{"x":1.26,"y":-47},{"x":1.27,"y":-51},{"x":1.3,"y":-51},{"x":1.32,"y":-53},{"x":1.28,"y":-52},{"x":1.23,"y":-53},{"x":1.25,"y":-54},{"x":1.27,"y":-54.5},{"x":1.25,"y":-56},{"x":1.27,"y":-56},{"x":1.3,"y":-56},{"x":1.32,"y":-55},{"x":1.26,"y":-57.5},{"x":1.3,"y":-58},{"x":1.28,"y":-57.5},{"x":1.37,"y":-56.5},{"x":1.395,"y":-59},{"x":1.38,"y":-52},{"x":1.4,"y":-54},{"x":1.36,"y":-51},{"x":1.39,"y":-50},{"x":1.37,"y":-49},{"x":1.38,"y":-47},{"x":1.36,"y":-48.5},{"x":1.39,"y":-46},{"x":1.4,"y":-48},{"x":1.37,"y":-45},{"x":1.38,"y":-44},{"x":1.41,"y":-48.5},{"x":1.35,"y":-46},{"x":1.31,"y":-46},{"x":1.32,"y":-45.5},{"x":1.3,"y":-47},{"x":1.295,"y":-43.2},{"x":1.32,"y":-43},{"x":1.34,"y":-43.2},{"x":1.42,"y":-42.8},{"x":1.445,"y":-41.5},{"x":1.505,"y":-42.5},{"x":1.395,"y":-40.2},{"x":1.34,"y":-40.7},{"x":1.32,"y":-39.5},{"x":1.295,"y":-37.8},{"x":1.32,"y":-37.7},{"x":1.365,"y":-38.5},{"x":1.44,"y":-37},{"x":1.48,"y":-35.8},{"x":1.495,"y":-37},{"x":1.585,"y":-37.2},{"x":1.285,"y":-34},{"x":1.39,"y":-34.7},{"x":1.39,"y":-36},{"x":1.51,"y":-30.3},{"x":1.31,"y":-27.3},{"x":1.325,"y":-26.7},{"x":1.21,"y":-27.5},{"x":1.215,"y":-29},{"x":1.24,"y":-29},{"x":1.23,"y":-31},{"x":1.235,"y":-32},{"x":1.22,"y":-35.8},{"x":1.25,"y":-34.7},{"x":1.26,"y":-35.8},{"x":1.27,"y":-36},{"x":1.19,"y":-41},{"x":1.2,"y":-42},{"x":1.21,"y":-44},{"x":1.24,"y":-41.3},{"x":1.26,"y":-41.8},{"x":1.27,"y":-40},{"x":1.29,"y":-40.7},{"x":1.46,"y":-50.7},{"x":1.45,"y":-47},{"x":1.48,"y":-45.2},{"x":1.55,"y":-48.2},{"x":1.57,"y":-44.8},{"x":1.59,"y":-46.2},{"x":1.62,"y":-46.8},{"x":1.665,"y":-46.3},{"x":1.7,"y":-46.5},{"x":1.69,"y":-42},{"x":1.73,"y":-40.7},{"x":1.74,"y":-40.5},{"x":1.745,"y":-38.8},{"x":1.64,"y":-49},{"x":1.48,"y":-51},{"x":1.5,"y":-53},{"x":1.45,"y":-53.7},{"x":1.51,"y":-52.5},{"x":1.45,"y":-55.8},{"x":1.48,"y":-56},{"x":1.53,"y":-55.8},{"x":1.54,"y":-53},{"x":1.56,"y":-55},{"x":1.56,"y":-56},{"x":1.58,"y":-52.5},{"x":1.595,"y":-52.3},{"x":1.58,"y":-54},{"x":1.6,"y":-55},{"x":1.62,"y":-55},{"x":1.635,"y":-51.5},{"x":1.67,"y":-53.7},{"x":1.64,"y":-56.5},{"x":1.62,"y":-58.8},{"x":1.53,"y":-59.2},{"x":1.45,"y":-59},{"x":1.48,"y":-58.6},{"x":1.41,"y":-61.8},{"x":1.42,"y":-63},{"x":1.44,"y":-61},{"x":1.465,"y":-62.7},{"x":1.46,"y":-65},{"x":1.515,"y":-63},{"x":1.37,"y":-46},{"x":1.38,"y":-48},{"x":1.39,"y":-47.5},{"x":1.37,"y":-47.5},{"x":1.4,"y":-46.8},{"x":1.36,"y":-49.5},{"x":1.38,"y":-50},{"x":1.26,"y":-50},{"x":1.25,"y":-51.5},{"x":1.27,"y":-49.5},{"x":1.24,"y":-50.8},{"x":1.26,"y":-52},{"x":1.27,"y":-55},{"x":1.24,"y":-54.5},{"x":1.29,"y":-55.5},{"x":1.31,"y":-57},{"x":1.29,"y":-57},{"x":1.18,"y":-56},{"x":1.19,"y":-57},{"x":1.17,"y":-55},{"x":1.16,"y":-52},{"x":1.2,"y":-53},{"x":1.22,"y":-52.5},{"x":1.14,"y":-56.5},{"x":1.16,"y":-55.7}],
"e":[{"x":0.083,"y":-65.7},{"x":0.093,"y":-53.6},{"x":0.097,"y":-50.7},{"x":0.103,"y":-68.5},{"x":0.107,"y":-64.4},{"x":0.108,"y":-58.9},{"x":0.107,"y":-71.3},{"x":0.108,"y":-71.9},{"x":0.109,"y":-80.6},{"x":0.111,"y":-66},{"x":0.115,"y":-58.5},{"x":0.116,"y":-72},{"x":0.117,"y":-72.3},{"x":0.118,"y":-60},{"x":0.119,"y":-57.5},{"x":0.12,"y":-60.5},{"x":0.12,"y":-63},{"x":0.12,"y":-67.2},{"x":0.121,"y":-73.8},{"x":0.122,"y":-66.2},{"x":0.121,"y":-55.2},{"x":0.124,"y":-51.5},{"x":0.125,"y":-59},{"x":0.125,"y":-55},{"x":0.126,"y":-70.6},{"x":0.126,"y":-74.5},{"x":0.126,"y":-84.8},{"x":0.127,"y":-71.9},{"x":0.127,"y":-69.3},{"x":0.128,"y":-62.5},{"x":0.129,"y":-70.5},{"x":0.13,"y":-74},{"x":0.13,"y":-78},{"x":0.13,"y":-65.5},{"x":0.131,"y":-66},{"x":0.132,"y":-88.9},{"x":0.13,"y":-51.5},{"x":0.131,"y":-53.5},{"x":0.133,"y":-78},{"x":0.134,"y":-78.9},{"x":0.135,"y":-51},{"x":0.135,"y":-55},{"x":0.136,"y":-57.5},{"x":0.137,"y":-53},{"x":0.138,"y":-44},{"x":0.138,"y":-60},{"x":0.14,"y":-61},{"x":0.139,"y":-66},{"x":0.139,"y":-72.6},{"x":0.141,"y":-77.3},{"x":0.141,"y":-68},{"x":0.143,"y":-68.8},{"x":0.145,"y":-69.5},{"x":0.14,"y":-62},{"x":0.138,"y":-48.3},{"x":0.14,"y":-47},{"x":0.14,"y":-50.3},{"x":0.143,"y":-48.5},{"x":0.147,"y":-47.5},{"x":0.146,"y":-50.7},{"x":0.147,"y":-52.5},{"x":0.145,"y":-54},{"x":0.147,"y":-55.5},{"x":0.146,"y":-58},{"x":0.148,"y":-62},{"x":0.148,"y":-65.5},{"x":0.15,"y":-66},{"x":0.148,"y":-69.2},{"x":0.149,"y":-71.1},{"x":0.15,"y":-63.8},{"x":0.152,"y":-65},{"x":0.15,"y":-45.2},{"x":0.154,"y":-42.4},{"x":0.152,"y":-47},{"x":0.153,"y":-49.5},{"x":0.15,"y":-51},{"x":0.153,"y":-52},{"x":0.15,"y":-55},{"x":0.15,"y":-58},{"x":0.153,"y":-59.5},{"x":0.156,"y":-61},{"x":0.155,"y":-46},{"x":0.157,"y":-48},{"x":0.158,"y":-50},{"x":0.16,"y":-45},{"x":0.161,"y":-41.5},{"x":0.16,"y":-52},{"x":0.158,"y":-54},{"x":0.158,"y":-57},{"x":0.16,"y":-55},{"x":0.162,"y":-52.5},{"x":0.163,"y":-63.5},{"x":0.162,"y":-65.3},{"x":0.163,"y":-68},{"x":0.165,"y":-46},{"x":0.167,"y":-48},{"x":0.165,"y":-50},{"x":0.166,"y":-53},{"x":0.166,"y":-57.5},{"x":0.165,"y":-66},{"x":0.168,"y":-65.5},{"x":0.17,"y":-44.5},{"x":0.17,"y":-42.5},{"x":0.172,"y":-46.5},{"x":0.17,"y":-48.5},{"x":0.172,"y":-50},{"x":0.17,"y":-54},{"x":0.173,"y":-58},{"x":0.172,"y":-61},{"x":0.171,"y":-67.8},{"x":0.172,"y":-74},{"x":0.174,"y":-64},{"x":0.174,"y":-42.5},{"x":0.175,"y":-47},{"x":0.175,"y":-49.5},{"x":0.174,"y":-54},{"x":0.176,"y":-71.1},{"x":0.178,"y":-41.7},{"x":0.177,"y":-66.5},{"x":0.18,"y":-43.5},{"x":0.18,"y":-45},{"x":0.18,"y":-66.7},{"x":0.178,"y":-30.3},{"x":0.182,"y":-62.3},{"x":0.181,"y":-62.4},{"x":0.179,"y":-37.5},{"x":0.18,"y":-36.5},{"x":0.181,"y":-34},{"x":0.183,"y":-37.5},{"x":0.184,"y":-41.5},{"x":0.185,"y":-38.5},{"x":0.185,"y":-35},{"x":0.186,"y":-34.7},{"x":0.185,"y":-43},{"x":0.183,"y":-47.3},{"x":0.186,"y":-52.7},{"x":0.187,"y":-69},{"x":0.188,"y":-54.5},{"x":0.188,"y":-59.5},{"x":0.19,"y":-53.5},{"x":0.189,"y":-51},{"x":0.188,"y":-45},{"x":0.19,"y":-46},{"x":0.188,"y":-66},{"x":0.189,"y":-70.3},{"x":0.19,"y":-58.2},{"x":0.192,"y":-40.2},{"x":0.193,"y":-47.5},{"x":0.192,"y":-56},{"x":0.195,"y":-58.3},{"x":0.193,"y":-32},{"x":0.196,"y":-31.4},{"x":0.197,"y":-33},{"x":0.195,"y":-44},{"x":0.197,"y":-41},{"x":0.198,"y":-50},{"x":0.197,"y":-52.8},{"x":0.193,"y":-61.7},{"x":0.195,"y":-61},{"x":0.198,"y":-56.8},{"x":0.2,"y":-42.5},{"x":0.199,"y":-45},{"x":0.2,"y":-47.5},{"x":0.203,"y":-43},{"x":0.203,"y":-50},{"x":0.203,"y":-54.8},{"x":0.202,"y":-58.8},{"x":0.202,"y":-63.8},{"x":0.204,"y":-65},{"x":0.203,"y":-40.5},{"x":0.208,"y":-54.3},{"x":0.208,"y":-56.2},{"x":0.213,"y":-57.5},{"x":0.206,"y":-58},{"x":0.207,"y":-51.8},{"x":0.208,"y":-50},{"x":0.209,"y":-47},{"x":0.207,"y":-63},{"x":0.207,"y":-62},{"x":0.209,"y":-27.9},{"x":0.218,"y":-28.1},{"x":0.213,"y":-31.4},{"x":0.248,"y":-28.2},{"x":0.23,"y":-32.5},{"x":0.24,"y":-32.2},{"x":0.246,"y":-32.2},{"x":0.253,"y":-32.3},{"x":0.254,"y":-33},{"x":0.261,"y":-30.6},{"x":0.263,"y":-30.6},{"x":0.266,"y":-30.8},{"x":0.268,"y":-33},{"x":0.282,"y":-32.3},{"x":0.283,"y":-33.6},{"x":0.305,"y":-33.9},{"x":0.313,"y":-33.2},{"x":0.335,"y":-30.9},{"x":0.236,"y":-34},{"x":0.236,"y":-35.5},{"x":0.209,"y":-35.8},{"x":0.214,"y":-34.8},{"x":0.216,"y":-34.8},{"x":0.206,"y":-34.3},{"x":0.203,"y":-33.6},{"x":0.247,"y":-35},{"x":0.248,"y":-36},{"x":0.254,"y":-35.7},{"x":0.228,"y":-36.5},{"x":0.23,"y":-37},{"x":0.238,"y":-37.5},{"x":0.242,"y":-37.2},{"x":0.238,"y":-38.7},{"x":0.207,"y":-37},{"x":0.211,"y":-36.8},{"x":0.212,"y":-39},{"x":0.212,"y":-40},{"x":0.2,"y":-41},{"x":0.224,"y":-39},{"x":0.227,"y":-39.5},{"x":0.249,"y":-38.7},{"x":0.267,"y":-38.6},{"x":0.278,"y":-41.2},{"x":0.261,"y":-41.5},{"x":0.258,"y":-43},{"x":0.225,"y":-41.7},{"x":0.23,"y":-41.6},{"x":0.233,"y":-41.7},{"x":0.236,"y":-42},{"x":0.239,"y":-42.5},{"x":0.218,"y":-43},{"x":0.211,"y":-43.5},{"x":0.224,"y":-43.3},{"x":0.229,"y":-44.6},{"x":0.241,"y":-44.7},{"x":0.236,"y":-45.8},{"x":0.213,"y":-45},{"x":0.208,"y":-44.8},{"x":0.261,"y":-47},{"x":0.27,"y":-47.3},{"x":0.273,"y":-46.3},{"x":0.294,"y":-46.3},{"x":0.3,"y":-46.5},{"x":0.272,"y":-48.4},{"x":0.285,"y":-48.4},{"x":0.253,"y":-48.2},{"x":0.245,"y":-49},{"x":0.247,"y":-48.7},{"x":0.224,"y":-48},{"x":0.225,"y":-49},{"x":0.237,"y":-51.5},{"x":0.249,"y":-52.8},{"x":0.223,"y":-56.5},{"x":0.233,"y":-56.7},{"x":0.222,"y":-66},{"x":0.232,"y":-65},{"x":0.231,"y":-71},{"x":0.128,"y":-54},{"x":0.13,"y":-56},{"x":0.132,"y":-57},{"x":0.134,"y":-52.5},{"x":0.136,"y":-54},{"x":0.138,"y":-56},{"x":0.14,"y":-54},{"x":0.14,"y":-57},{"x":0.142,"y":-52},{"x":0.142,"y":-59},{"x":0.132,"y":-55},{"x":0.134,"y":-59},{"x":0.137,"y":-59.5},{"x":0.121,"y":-58},{"x":0.122,"y":-59.8},{"x":0.124,"y":-60.5},{"x":0.117,"y":-59},{"x":0.116,"y":-60},{"x":0.118,"y":-58},{"x":0.143,"y":-55.5},{"x":0.144,"y":-51},{"x":0.148,"y":-59},{"x":0.151,"y":-53},{"x":0.152,"y":-56.5},{"x":0.155,"y":-53},{"x":0.155,"y":-56},{"x":0.156,"y":-58},{"x":0.155,"y":-50},{"x":0.16,"y":-48},{"x":0.162,"y":-50},{"x":0.163,"y":-47},{"x":0.165,"y":-55},{"x":0.168,"y":-52},{"x":0.168,"y":-50},{"x":0.168,"y":-46},{"x":0.172,"y":-52},{"x":0.176,"y":-51},{"x":0.178,"y":-45},{"x":0.183,"y":-44},{"x":0.185,"y":-45},{"x":0.188,"y":-43},{"x":0.19,"y":-48},{"x":0.196,"y":-48},{"x":0.198,"y":-46},{"x":0.2,"y":-44},{"x":0.2,"y":-49},{"x":0.205,"y":-42},{"x":0.207,"y":-42},{"x":0.21,"y":-44},{"x":0.2,"y":-51},{"x":0.198,"y":-48},{"x":0.152,"y":-48},{"x":0.148,"y":-45.5},{"x":0.145,"y":-57},{"x":0.163,"y":-55.5},{"x":0.163,"y":-58},{"x":0.16,"y":-59},{"x":0.158,"y":-60}],
"f":[{"x":0.085,"y":-62.4},{"x":0.09,"y":-60.9},{"x":0.091,"y":-53},{"x":0.091,"y":-58},{"x":0.094,"y":-57.2},{"x":0.096,"y":-52.7},{"x":0.092,"y":-69.8},{"x":0.094,"y":-87},{"x":0.095,"y":-70},{"x":0.098,"y":-61.9},{"x":0.099,"y":-65.3},{"x":0.1,"y":-55.5},{"x":0.102,"y":-49.8},{"x":0.103,"y":-48.3},{"x":0.103,"y":-47.2},{"x":0.103,"y":-75.3},{"x":0.104,"y":-70.7},{"x":0.105,"y":-62.8},{"x":0.106,"y":-86.2},{"x":0.106,"y":-57.5},{"x":0.106,"y":-73.5},{"x":0.106,"y":-76.9},{"x":0.108,"y":-76.8},{"x":0.109,"y":-62.5},{"x":0.109,"y":-66.2},{"x":0.11,"y":-73.5},{"x":0.111,"y":-55},{"x":0.111,"y":-51},{"x":0.112,"y":-70.7},{"x":0.113,"y":-73.5},{"x":0.113,"y":-51.5},{"x":0.114,"y":-54.2},{"x":0.114,"y":-59},{"x":0.115,"y":-62.5},{"x":0.115,"y":-68.3},{"x":0.115,"y":-84.3},{"x":0.116,"y":-83.3},{"x":0.117,"y":-49.3},{"x":0.117,"y":-56.5},{"x":0.117,"y":-58.5},{"x":0.117,"y":-64.5},{"x":0.118,"y":-69},{"x":0.118,"y":-75.5},{"x":0.118,"y":-78.2},{"x":0.119,"y":-73},{"x":0.12,"y":-60},{"x":0.12,"y":-65},{"x":0.12,"y":-70},{"x":0.12,"y":-77.5},{"x":0.12,"y":-83.5},{"x":0.121,"y":-51.7},{"x":0.121,"y":-53.3},{"x":0.122,"y":-57},{"x":0.122,"y":-74},{"x":0.123,"y":-72.5},{"x":0.123,"y":-71},{"x":0.124,"y":-66},{"x":0.124,"y":-59},{"x":0.125,"y":-69},{"x":0.125,"y":-63},{"x":0.125,"y":-67},{"x":0.126,"y":-73},{"x":0.126,"y":-55},{"x":0.125,"y":-46.8},{"x":0.128,"y":-52.5},{"x":0.127,"y":-57},{"x":0.128,"y":-81.5},{"x":0.128,"y":-79.7},{"x":0.128,"y":-65.5},{"x":0.129,"y":-49.7},{"x":0.13,"y":-46.3},{"x":0.13,"y":-54},{"x":0.13,"y":-60},{"x":0.13,"y":-68.5},{"x":0.13,"y":-74.3},{"x":0.13,"y":-70},{"x":0.131,"y":-63.8},{"x":0.131,"y":-81},{"x":0.132,"y":-45.5},{"x":0.132,"y":-73},{"x":0.132,"y":-65},{"x":0.133,"y":-52.5},{"x":0.133,"y":-57},{"x":0.134,"y":-69},{"x":0.135,"y":-51},{"x":0.135,"y":-48.5},{"x":0.136,"y":-55},{"x":0.136,"y":-59},{"x":0.136,"y":-61.5},{"x":0.136,"y":-73.5},{"x":0.137,"y":-48},{"x":0.137,"y":-66},{"x":0.137,"y":-68},{"x":0.138,"y":-63},{"x":0.138,"y":-56},{"x":0.139,"y":-65.7},{"x":0.14,"y":-53},{"x":0.14,"y":-47},{"x":0.14,"y":-68},{"x":0.142,"y":-46.8},{"x":0.143,"y":-50},{"x":0.143,"y":-61.5},{"x":0.143,"y":-55},{"x":0.144,"y":-57},{"x":0.145,"y":-49},{"x":0.145,"y":-59.5},{"x":0.145,"y":-52.5},{"x":0.146,"y":-61},{"x":0.146,"y":-42},{"x":0.147,"y":-40.6},{"x":0.145,"y":-37.2},{"x":0.147,"y":-79.5},{"x":0.147,"y":-46.2},{"x":0.148,"y":-55},{"x":0.148,"y":-53.5},{"x":0.148,"y":-57.5},{"x":0.149,"y":-48},{"x":0.15,"y":-56},{"x":0.15,"y":-59},{"x":0.151,"y":-61.2},{"x":0.152,"y":-53},{"x":0.151,"y":-69},{"x":0.152,"y":-73},{"x":0.153,"y":-49.5},{"x":0.154,"y":-35.8},{"x":0.154,"y":-57.5},{"x":0.155,"y":-62.5},{"x":0.156,"y":-61},{"x":0.156,"y":-67},{"x":0.157,"y":-55},{"x":0.157,"y":-47.2},{"x":0.158,"y":-44.8},{"x":0.159,"y":-46},{"x":0.16,"y":-54},{"x":0.16,"y":-56},{"x":0.16,"y":-62},{"x":0.16,"y":-64},{"x":0.162,"y":-45.5},{"x":0.162,"y":-48.5},{"x":0.163,"y":-52},{"x":0.164,"y":-57},{"x":0.165,"y":-42.5},{"x":0.166,"y":-50},{"x":0.166,"y":-53.5},{"x":0.168,"y":-58},{"x":0.169,"y":-47.3},{"x":0.169,"y":-44},{"x":0.17,"y":-50},{"x":0.171,"y":-36},{"x":0.171,"y":-38.5},{"x":0.171,"y":-41.5},{"x":0.172,"y":-59},{"x":0.172,"y":-60},{"x":0.173,"y":-61},{"x":0.173,"y":-43},{"x":0.173,"y":-40.5},{"x":0.174,"y":-47.2},{"x":0.174,"y":-51},{"x":0.174,"y":-54.5},{"x":0.175,"y":-55},{"x":0.176,"y":-52},{"x":0.177,"y":-54},{"x":0.177,"y":-45.5},{"x":0.178,"y":-37},{"x":0.178,"y":-38.7},{"x":0.179,"y":-47},{"x":0.18,"y":-44.8},{"x":0.18,"y":-56},{"x":0.181,"y":-40.5},{"x":0.181,"y":-35.8},{"x":0.182,"y":-55.2},{"x":0.183,"y":-46},{"x":0.184,"y":-52.8},{"x":0.184,"y":-37.7},{"x":0.185,"y":-59},{"x":0.186,"y":-43.5},{"x":0.187,"y":-37},{"x":0.188,"y":-40},{"x":0.188,"y":-53},{"x":0.19,"y":-39.5},{"x":0.19,"y":-33.8},{"x":0.191,"y":-47.3},{"x":0.192,"y":-60.5},{"x":0.192,"y":-44.5},{"x":0.193,"y":-46},{"x":0.194,"y":-54},{"x":0.195,"y":-54.8},{"x":0.196,"y":-41.5},{"x":0.198,"y":-40.8},{"x":0.198,"y":-54.7},{"x":0.2,"y":-35.5},{"x":0.2,"y":-44},{"x":0.201,"y":-47.5},{"x":0.202,"y":-47.8},{"x":0.203,"y":-40.8},{"x":0.203,"y":-52.5},{"x":0.205,"y":-45},{"x":0.205,"y":-42},{"x":0.206,"y":-50.3},{"x":0.206,"y":-34.6},{"x":0.206,"y":-59},{"x":0.208,"y":-63.8},{"x":0.208,"y":-49},{"x":0.208,"y":-37.7},{"x":0.209,"y":-35.5},{"x":0.21,"y":-30.3},{"x":0.21,"y":-43},{"x":0.211,"y":-39.5},{"x":0.212,"y":-36},{"x":0.212,"y":-38},{"x":0.213,"y":-48.8},{"x":0.213,"y":-43.5},{"x":0.215,"y":-44},{"x":0.216,"y":-51.7},{"x":0.219,"y":-38.5},{"x":0.22,"y":-47},{"x":0.222,"y":-34.5},{"x":0.223,"y":-48},{"x":0.224,"y":-44.8},{"x":0.225,"y":-31.8},{"x":0.228,"y":-39.5},{"x":0.228,"y":-41.3},{"x":0.233,"y":-26.5},{"x":0.233,"y":-39.7},{"x":0.235,"y":-27.2},{"x":0.235,"y":-29.2},{"x":0.238,"y":-41},{"x":0.243,"y":-37.7},{"x":0.246,"y":-27.5},{"x":0.248,"y":-29},{"x":0.25,"y":-54.2},{"x":0.251,"y":-31.5},{"x":0.252,"y":-36.5},{"x":0.253,"y":-35},{"x":0.253,"y":-28.8},{"x":0.256,"y":-31.5},{"x":0.258,"y":-32.5},{"x":0.26,"y":-30.8},{"x":0.264,"y":-33.8},{"x":0.272,"y":-30.7},{"x":0.272,"y":-37},{"x":0.276,"y":-26.8},{"x":0.277,"y":-37.5},{"x":0.282,"y":-37},{"x":0.283,"y":-24.9},{"x":0.287,"y":-26},{"x":0.295,"y":-25.7},{"x":0.305,"y":-29.4},{"x":0.307,"y":-47.3},{"x":0.317,"y":-31.2},{"x":0.322,"y":-48.9},{"x":0.15,"y":-52},{"x":0.155,"y":-54.5},{"x":0.147,"y":-51},{"x":0.153,"y":-56},{"x":0.146,"y":-56},{"x":0.149,"y":-60},{"x":0.143,"y":-59},{"x":0.125,"y":-60},{"x":0.128,"y":-61.5},{"x":0.122,"y":-62},{"x":0.14,"y":-57},{"x":0.145,"y":-58},{"x":0.147,"y":-59},{"x":0.152,"y":-59},{"x":0.15,"y":-54},{"x":0.153,"y":-53.5},{"x":0.155,"y":-56},{"x":0.157,"y":-57},{"x":0.147,"y":-53},{"x":0.143,"y":-53},{"x":0.14,"y":-55},{"x":0.135,"y":-53},{"x":0.13,"y":-57},{"x":0.128,"y":-59},{"x":0.125,"y":-57},{"x":0.12,"y":-58},{"x":0.122,"y":-59},{"x":0.118,"y":-60},{"x":0.126,"y":-61},{"x":0.129,"y":-63},{"x":0.122,"y":-65},{"x":0.123,"y":-67},{"x":0.127,"y":-67},{"x":0.13,"y":-65},{"x":0.135,"y":-63},{"x":0.137,"y":-61},{"x":0.143,"y":-52},{"x":0.165,"y":-48},{"x":0.168,"y":-52},{"x":0.16,"y":-50},{"x":0.165,"y":-47}]
},
"concat":[
{"width":972,"height":782,"title":"(a)","resolve":{"axis":{"x":"independent","y":"independent"}},"layer":[
{"data":{"name":"a"},"mark":{"type":"point","filled":true,"opacity":1,"size":320,"color":"#027c02"},"encoding":{"x":{"field":"x","type":"quantitative","scale":{"domain":[0.75,1.015],"nice":false,"zero":false},"axis":{"title":"SSA","values":[0.75,0.8,0.85,0.9,0.95,1.0],"format":".2f","tickSize":-15,"labelPadding":32,"titlePadding":4}},"y":{"field":"y","type":"quantitative","scale":{"domain":[-100,-15],"nice":false,"zero":false},"axis":{"title":"REE (W/m²)","values":[-100,-90,-80,-70,-60,-50,-40,-30,-20],"format":"d","tickSize":-16,"labelPadding":16,"titlePadding":14}}}},
{"data":{"values":[{"x":0.784,"y":-77.5},{"x":0.996,"y":-29.4}]},"mark":{"type":"line","color":"#ef1c1c","strokeWidth":3.5},"encoding":{"x":{"field":"x","type":"quantitative","axis":{"title":null,"labels":false,"domain":false,"values":[0.775,0.825,0.875,0.925,0.975],"tickSize":-8}},"y":{"field":"y","type":"quantitative","axis":{"title":null,"labels":false,"domain":false,"values":[-95,-85,-75,-65,-55,-45,-35,-25],"tickSize":-9}}}},
{"data":{"values":[{"x":0.7593,"y":-20.3,"t":"y =−255.156 + 226.680x"},{"x":0.7593,"y":-26.2,"t":"R = 0.680"}]},"mark":{"type":"text","align":"left","baseline":"middle","fontSize":44,"color":"#1a1a1a"},"encoding":{"x":{"field":"x","type":"quantitative","axis":null},"y":{"field":"y","type":"quantitative","axis":null},"text":{"field":"t"}}}]},
{"width":972,"height":782,"title":"(b)","resolve":{"axis":{"x":"independent","y":"independent"}},"layer":[
{"data":{"name":"b"},"mark":{"type":"point","filled":true,"opacity":1,"size":320,"color":"#027c02"},"encoding":{"x":{"field":"x","type":"quantitative","scale":{"domain":[0.75,1.015],"nice":false,"zero":false},"axis":{"title":"SSA","values":[0.75,0.8,0.85,0.9,0.95,1.0],"format":".2f","tickSize":-15,"labelPadding":32,"titlePadding":4}},"y":{"field":"y","type":"quantitative","scale":{"domain":[-100,-15],"nice":false,"zero":false},"axis":{"title":"REE (W/m²)","values":[-100,-90,-80,-70,-60,-50,-40,-30,-20],"format":"d","tickSize":-16,"labelPadding":16,"titlePadding":14}}}},
{"data":{"values":[{"x":0.77,"y":-89.5},{"x":0.994,"y":-34.2}]},"mark":{"type":"line","color":"#ef1c1c","strokeWidth":3.5},"encoding":{"x":{"field":"x","type":"quantitative","axis":{"title":null,"labels":false,"domain":false,"values":[0.775,0.825,0.875,0.925,0.975],"tickSize":-8}},"y":{"field":"y","type":"quantitative","axis":{"title":null,"labels":false,"domain":false,"values":[-95,-85,-75,-65,-55,-45,-35,-25],"tickSize":-9}}}},
{"data":{"values":[{"x":0.76,"y":-20.4,"t":"y = −279.304 + 246.506x"},{"x":0.76,"y":-26.3,"t":"R = 0.769"}]},"mark":{"type":"text","align":"left","baseline":"middle","fontSize":44,"color":"#1a1a1a"},"encoding":{"x":{"field":"x","type":"quantitative","axis":null},"y":{"field":"y","type":"quantitative","axis":null},"text":{"field":"t"}}}]},
{"width":972,"height":782,"title":"(c)","resolve":{"axis":{"x":"independent","y":"independent"}},"layer":[
{"data":{"name":"c"},"mark":{"type":"point","filled":true,"opacity":1,"size":320,"color":"#027c02"},"encoding":{"x":{"field":"x","type":"quantitative","scale":{"domain":[0,1.9],"nice":false,"zero":false},"axis":{"title":"AE","values":[0,0.2,0.4,0.6,0.8,1.0,1.2,1.4,1.6,1.8],"format":".1f","tickSize":-15,"labelPadding":32,"titlePadding":4}},"y":{"field":"y","type":"quantitative","scale":{"domain":[-100,-15],"nice":false,"zero":false},"axis":{"title":"REE (W/m²)","values":[-100,-90,-80,-70,-60,-50,-40,-30,-20],"format":"d","tickSize":-16,"labelPadding":16,"titlePadding":14}}}},
{"data":{"values":[{"x":0.325,"y":-59.3},{"x":1.78,"y":-46.4}]},"mark":{"type":"line","color":"#ef1c1c","strokeWidth":3.5},"encoding":{"x":{"field":"x","type":"quantitative","axis":{"title":null,"labels":false,"domain":false,"values":[0.1,0.3,0.5,0.7,0.9,1.1,1.3,1.5,1.7],"tickSize":-8}},"y":{"field":"y","type":"quantitative","axis":{"title":null,"labels":false,"domain":false,"values":[-95,-85,-75,-65,-55,-45,-35,-25],"tickSize":-9}}}},
{"data":{"values":[{"x":0.064,"y":-20.2,"t":"y = −62.215 + 8.908x"},{"x":0.064,"y":-26,"t":"R = 0.210"}]},"mark":{"type":"text","align":"left","baseline":"middle","fontSize":44,"color":"#1a1a1a"},"encoding":{"x":{"field":"x","type":"quantitative","axis":null},"y":{"field":"y","type":"quantitative","axis":null},"text":{"field":"t"}}}]},
{"width":972,"height":782,"title":"(d)","resolve":{"axis":{"x":"independent","y":"independent"}},"layer":[
{"data":{"name":"d"},"mark":{"type":"point","filled":true,"opacity":1,"size":320,"color":"#027c02"},"encoding":{"x":{"field":"x","type":"quantitative","scale":{"domain":[0,1.9],"nice":false,"zero":false},"axis":{"title":"AE","values":[0,0.2,0.4,0.6,0.8,1.0,1.2,1.4,1.6,1.8],"format":".1f","tickSize":-15,"labelPadding":32,"titlePadding":4}},"y":{"field":"y","type":"quantitative","scale":{"domain":[-100,-15],"nice":false,"zero":false},"axis":{"title":"REE (W/m²)","values":[-100,-90,-80,-70,-60,-50,-40,-30,-20],"format":"d","tickSize":-16,"labelPadding":16,"titlePadding":14}}}},
{"data":{"values":[{"x":0.065,"y":-65},{"x":1.745,"y":-46.7}]},"mark":{"type":"line","color":"#ef1c1c","strokeWidth":3.5},"encoding":{"x":{"field":"x","type":"quantitative","axis":{"title":null,"labels":false,"domain":false,"values":[0.1,0.3,0.5,0.7,0.9,1.1,1.3,1.5,1.7],"tickSize":-8}},"y":{"field":"y","type":"quantitative","axis":{"title":null,"labels":false,"domain":false,"values":[-95,-85,-75,-65,-55,-45,-35,-25],"tickSize":-9}}}},
{"data":{"values":[{"x":0.0757,"y":-20.4,"t":"y = −65.602 +10.873x"},{"x":0.0757,"y":-26.3,"t":"R = 0.293"}]},"mark":{"type":"text","align":"left","baseline":"middle","fontSize":44,"color":"#1a1a1a"},"encoding":{"x":{"field":"x","type":"quantitative","axis":null},"y":{"field":"y","type":"quantitative","axis":null},"text":{"field":"t"}}}]},
{"width":972,"height":782,"title":{"text":"(e)","offset":16},"resolve":{"axis":{"x":"independent","y":"independent"}},"layer":[
{"data":{"name":"e"},"mark":{"type":"point","filled":true,"opacity":1,"size":320,"color":"#027c02"},"encoding":{"x":{"field":"x","type":"quantitative","scale":{"domain":[0.05,0.375],"nice":false,"zero":false},"axis":{"title":"REFF (μm)","values":[0.05,0.1,0.15,0.2,0.25,0.3,0.35],"format":".2f","tickSize":-15,"labelPadding":32,"titlePadding":6}},"y":{"field":"y","type":"quantitative","scale":{"domain":[-100,-15],"nice":false,"zero":false},"axis":{"title":"REE (W/m²)","values":[-100,-90,-80,-70,-60,-50,-40,-30,-20],"format":"d","tickSize":-16,"labelPadding":16,"titlePadding":14}}}},
{"data":{"values":[{"x":0.083,"y":-73.1},{"x":0.09,"y":-70.7},{"x":0.1,"y":-67.6},{"x":0.12,"y":-62.3},{"x":0.14,"y":-57.8},{"x":0.16,"y":-53.9},{"x":0.18,"y":-50.5},{"x":0.2,"y":-47.4},{"x":0.23,"y":-43.3},{"x":0.26,"y":-39.7},{"x":0.3,"y":-35.6},{"x":0.335,"y":-32.3}]},"mark":{"type":"line","color":"#ef1c1c","strokeWidth":3.5,"interpolate":"monotone"},"encoding":{"x":{"field":"x","type":"quantitative","axis":{"title":null,"labels":false,"domain":false,"values":[0.075,0.125,0.175,0.225,0.275,0.325],"tickSize":-8}},"y":{"field":"y","type":"quantitative","axis":{"title":null,"labels":false,"domain":false,"values":[-95,-85,-75,-65,-55,-45,-35,-25],"tickSize":-9}}}},
{"data":{"values":[{"x":0.0603,"y":-20.2,"t":"y = −0.401 + 29.207ln(x)"},{"x":0.0603,"y":-26.1,"t":"R = 0.628"}]},"mark":{"type":"text","align":"left","baseline":"middle","fontSize":44,"color":"#1a1a1a"},"encoding":{"x":{"field":"x","type":"quantitative","axis":null},"y":{"field":"y","type":"quantitative","axis":null},"text":{"field":"t"}}}]},
{"width":972,"height":782,"title":{"text":"(f)","offset":16},"resolve":{"axis":{"x":"independent","y":"independent"}},"layer":[
{"data":{"name":"f"},"mark":{"type":"point","filled":true,"opacity":1,"size":320,"color":"#027c02"},"encoding":{"x":{"field":"x","type":"quantitative","scale":{"domain":[0.05,0.375],"nice":false,"zero":false},"axis":{"title":"REFF (μm)","values":[0.05,0.1,0.15,0.2,0.25,0.3,0.35],"format":".2f","tickSize":-15,"labelPadding":32,"titlePadding":6}},"y":{"field":"y","type":"quantitative","scale":{"domain":[-100,-15],"nice":false,"zero":false},"axis":{"title":"REE (W/m²)","values":[-100,-90,-80,-70,-60,-50,-40,-30,-20],"format":"d","tickSize":-16,"labelPadding":16,"titlePadding":14}}}},
{"data":{"values":[{"x":0.085,"y":-73.3},{"x":0.09,"y":-71.4},{"x":0.1,"y":-67.9},{"x":0.12,"y":-61.7},{"x":0.14,"y":-56.5},{"x":0.16,"y":-52},{"x":0.18,"y":-48.1},{"x":0.2,"y":-44.5},{"x":0.23,"y":-39.8},{"x":0.26,"y":-35.7},{"x":0.3,"y":-30.9},{"x":0.322,"y":-28.5}]},"mark":{"type":"line","color":"#ef1c1c","strokeWidth":3.5,"interpolate":"monotone"},"encoding":{"x":{"field":"x","type":"quantitative","axis":{"title":null,"labels":false,"domain":false,"values":[0.075,0.125,0.175,0.225,0.275,0.325],"tickSize":-8}},"y":{"field":"y","type":"quantitative","axis":{"title":null,"labels":false,"domain":false,"values":[-95,-85,-75,-65,-55,-45,-35,-25],"tickSize":-9}}}},
{"data":{"values":[{"x":0.0646,"y":-20.2,"t":"y = 9.656 + 33.663ln(x)"},{"x":0.0646,"y":-26.1,"t":"R = 0.733"}]},"mark":{"type":"text","align":"left","baseline":"middle","fontSize":44,"color":"#1a1a1a"},"encoding":{"x":{"field":"x","type":"quantitative","axis":null},"y":{"field":"y","type":"quantitative","axis":null},"text":{"field":"t"}}}]}
]}
